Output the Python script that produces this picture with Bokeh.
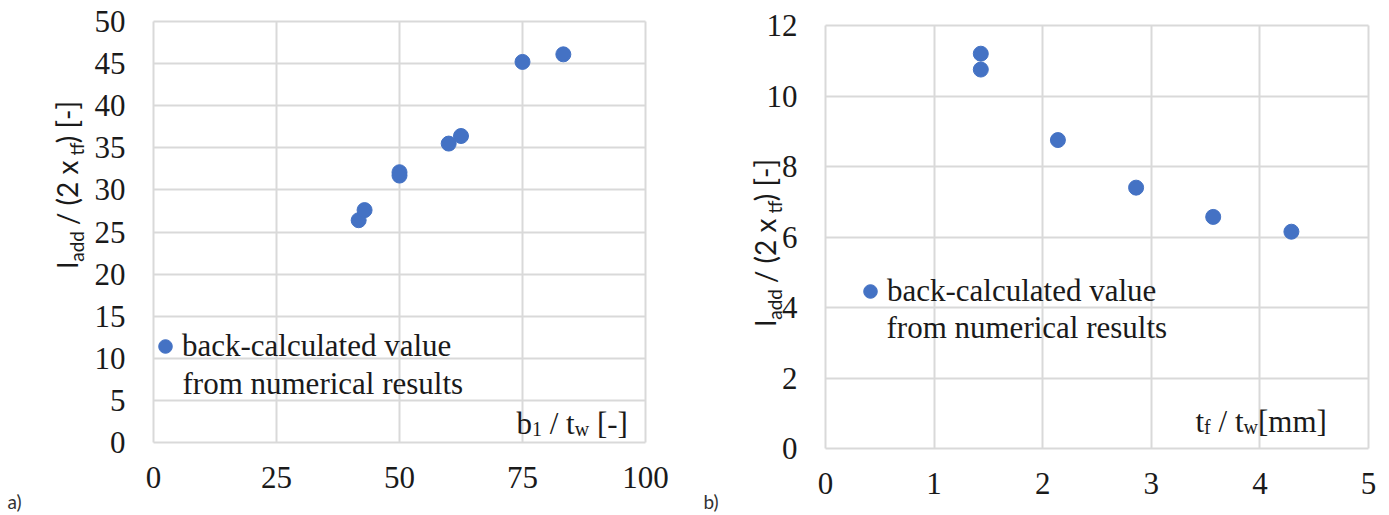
import math
from bokeh.plotting import figure
from bokeh.models import Label, Legend, LegendItem, FixedTicker, LinearAxis, Grid
from bokeh.layouts import row
from bokeh.embed import file_html
from bokeh.resources import INLINE

# ---------------- data ----------------
a_x = [41.7, 42.9, 50.0, 50.0, 60.0, 62.5, 75.0, 83.3]          # b1 / tw [-]
a_y = [26.4, 27.6, 31.7, 32.1, 35.5, 36.4, 45.2, 46.1]          # ladd / (2 x tf) [-]
b_x = [1.43, 1.43, 2.14, 2.86, 3.57, 4.29]                      # tf / tw
b_y = [11.2, 10.75, 8.75, 7.4, 6.57, 6.15]                      # ladd / (2 x tf) [-]
a_xticks = [0, 25, 50, 75, 100]
a_yticks = [0, 5, 10, 15, 20, 25, 30, 35, 40, 45, 50]
b_xticks = [0, 1, 2, 3, 4, 5]
b_yticks = [0, 2, 4, 6, 8, 10, 12]
legend_line1 = "back-calculated value"
legend_line2 = "from numerical results"

BLUE = "#4472C4"
GRID = "#d9d9d9"
TXT = "#1a1a1a"
SERIF = "Liberation Serif"
SANS = "Lato"
H = 515

SERIF_W = {"b": .5, "1": .5, " ": .25, "/": .278, "t": .278, "w": .722, "[": .333,
           "-": .333, "]": .333, "f": .333, "m": .778}
SANS_W = {"l": .24, "a": .5, "d": .57, " ": .19, "/": .36, "(": .3, "2": .58, "x": .49,
          "t": .34, "f": .31, ")": .3, "[": .3, "-": .36, "]": .3}


class Panel:
    """A figure whose frame covers the whole canvas; the plot area is placed by pixels."""

    def __init__(self, width, xlim, ylim, frame_px, xt, yt):
        self.xlim, self.ylim = xlim, ylim
        L, R, T, B = frame_px
        self.kx = (R - L) / (xlim[1] - xlim[0])
        self.ky = (B - T) / (ylim[1] - ylim[0])
        self.L, self.B = L, B
        xr = (xlim[0] - L / self.kx, xlim[0] + (width - L) / self.kx)
        yr = (ylim[0] - (H - B) / self.ky, ylim[0] + B / self.ky)
        p = figure(width=width, height=H, x_range=xr, y_range=yr,
                   x_axis_type=None, y_axis_type=None,
                   output_backend="svg", toolbar_location=None,
                   min_border=0, min_border_left=0, min_border_right=0,
                   min_border_top=0, min_border_bottom=0)
        p.outline_line_color = None
        p.background_fill_color = "white"
        p.border_fill_color = "white"
        p.add_layout(Grid(dimension=0, ticker=FixedTicker(ticks=xt), bounds=xlim,
                          cross_bounds=ylim, grid_line_color=GRID, grid_line_width=2))
        p.add_layout(Grid(dimension=1, ticker=FixedTicker(ticks=yt), bounds=ylim,
                          cross_bounds=xlim, grid_line_color=GRID, grid_line_width=2))
        xa = LinearAxis(fixed_location=ylim[0], bounds=xlim, ticker=FixedTicker(ticks=xt))
        ya = LinearAxis(fixed_location=xlim[0], bounds=ylim, ticker=FixedTicker(ticks=yt))
        for ax in (xa, ya):
            ax.axis_line_color = None
            ax.major_tick_line_color = None
            ax.minor_tick_line_color = None
            ax.major_tick_out = 0
            ax.major_tick_in = 0
            ax.minor_tick_out = 0
            ax.major_label_text_font = SERIF
            ax.major_label_text_font_size = "31px"
            ax.major_label_text_color = TXT
        xa.major_label_standoff = 24
        ya.major_label_standoff = 28
        p.add_layout(xa, "below")
        p.add_layout(ya, "left")
        self.p = p

    def dx(self, px):
        return self.xlim[0] + (px - self.L) / self.kx

    def dy(self, py):
        return self.ylim[0] + (self.B - py) / self.ky

    def label(self, px, py, text, font, size, color=TXT, baseline="middle"):
        self.p.add_layout(Label(x=self.dx(px), y=self.dy(py), text=text, text_font=font,
                                text_font_size=f"{size}px", text_color=color,
                                text_align="left", text_baseline=baseline))

    def pieces(self, parts, px, py, font, size, sub_size, sub_shift, table, rotated):
        off = 0.0
        x0, y0 = self.dx(px), self.dy(py)
        for text, sub in parts:
            sz = sub_size if sub else size
            sh = sub_shift if sub else 0
            core = text.strip(" ")
            lead = len(text) - len(text.lstrip(" "))
            trail = len(text) - len(text.rstrip(" "))
            off += lead * table[" "] * sz
            kw = dict(x=x0, y=y0, text=core, text_font=font, text_font_size=f"{sz}px",
                      text_color=TXT, text_align="left", text_baseline="alphabetic")
            if rotated:
                kw.update(angle=math.pi / 2, x_offset=sh, y_offset=off)
            else:
                kw.update(x_offset=off, y_offset=-sh)
            self.p.add_layout(Label(**kw))
            off += sum(table.get(c, 0.5) for c in core) * sz + trail * table[" "] * sz

    def legend(self, renderer, px, py_center):
        leg = Legend(items=[LegendItem(label=legend_line1, renderers=[renderer])],
                     location=(px, H - py_center - 18),
                     glyph_width=34, glyph_height=36, label_height=36, label_standoff=0,
                     padding=0, margin=0, spacing=0, border_line_color=None,
                     background_fill_alpha=0, label_text_font=SERIF,
                     label_text_font_size="31px", label_text_color=TXT)
        self.p.add_layout(leg)


ylab = [("l", False), ("add", True), (" / (2 x  ", False), ("tf", True), (") [-]", False)]

# ---------------- panel a ----------------
A = Panel(700, (0, 100), (0, 50), (153, 645, 21, 442), a_xticks, a_yticks)
ra = A.p.scatter(a_x, a_y, size=15, color=BLUE, line_color=BLUE)
A.legend(ra, 148, 346)
A.label(182, 383, legend_line2, SERIF, 31)
A.pieces(ylab, 66, 268, SANS, 28, 19, 10, SANS_W, True)
A.pieces([("b", False), ("1", True), (" / t", False), ("w", True), (" [-]", False)],
         516, 423, SERIF, 31, 20, 5, SERIF_W, False)
A.label(7, 501, "a)", SANS, 19, color="#333333")

# ---------------- panel b ----------------
B = Panel(689, (0, 5), (0, 12), (125, 668, 25, 448), b_xticks, b_yticks)
rb = B.p.scatter(b_x, b_y, size=15, color=BLUE, line_color=BLUE)
B.legend(rb, 153, 291)
B.label(186, 327, legend_line2, SERIF, 31)
B.pieces(ylab, 64, 326, SANS, 28, 19, 10, SANS_W, True)
B.pieces([("t", False), ("f", True), (" / t", False), ("w", True), ("[mm]", False)],
         495, 421, SERIF, 31, 20, 5, SERIF_W, False)
B.label(3, 501, "b)", SANS, 19, color="#333333")

layout = row(A.p, B.p)
open("out.html", "w").write(file_html(layout, INLINE))
